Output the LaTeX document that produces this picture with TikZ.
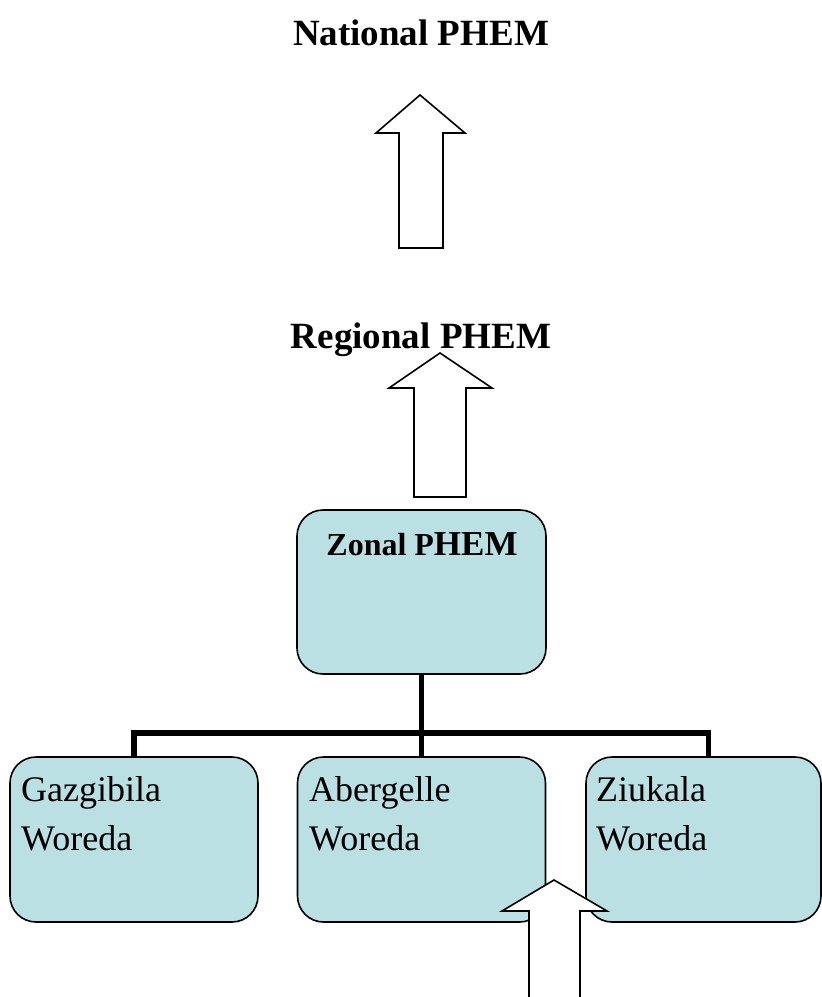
\documentclass[tikz,border=0pt]{standalone}
\usepackage{fontspec}
\setmainfont{Liberation Serif}
\definecolor{boxfill}{RGB}{186,224,228}
\begin{document}
\begin{tikzpicture}[x=1pt,y=-1pt,
  wbox/.style={draw=black, line width=1.6pt, fill=boxfill, rounded corners=26pt,
    minimum width=248pt, minimum height=165pt, inner sep=0pt},
  wtext/.style={anchor=base west, inner sep=0pt, align=left,
    font=\fontsize{36}{49}\selectfont},
  title/.style={inner sep=0pt, anchor=base, font=\fontsize{37}{44}\selectfont\bfseries},
  blockarrow/.style={draw=black, line width=1.6pt, fill=white, line join=miter},
  conn/.style={line width=5.5pt, draw=black, line join=miter}]
\useasboundingbox (0,0) rectangle (822,997);
\clip (0,0) rectangle (822,997);

% titles
\node[title] (national) at (421,45) {National PHEM};
\node[title] (regional) at (421,348) {Regional PHEM};

% arrow National <- Regional
\draw[blockarrow] (420,95) -- (465,133) -- (443,133) -- (443,248) -- (399,248)
  -- (399,133) -- (376,133) -- cycle;
% arrow Regional <- Zonal
\draw[blockarrow] (440,353) -- (492,388) -- (466,388) -- (466,497) -- (414,497)
  -- (414,388) -- (389,388) -- cycle;

% zonal box
\node[wbox, minimum width=249pt, minimum height=164pt] (zonal) at (421.5,592) {};
\node[anchor=base, inner sep=0pt, font=\bfseries] (zonalt) at (422,555)
  {\fontsize{32}{38}\selectfont Zonal P\fontsize{35}{38}\selectfont HEM};

% woreda boxes
\node[wbox] (gaz) at (134,839.5) {};
\node[wbox] (aber) at (421.5,839.5) {};
\node[wbox, minimum width=235pt] (ziu) at (703.5,839.5) {};
\node[wtext] (gazt) at (21,850) {Gazgibila\\Woreda};
\node[wtext] (abert) at (309,850) {Abergelle\\Woreda};
\node[wtext] (ziut) at (596,850) {Ziukala\\Woreda};

% tree connectors
\coordinate (bus) at (421.5,733);
\coordinate (ziutop) at (708.5,756.5);
\draw[conn] (zonal.south) -- (aber.north);
\draw[conn] (gaz.north) |- (bus) -| (ziutop);

% arrow from below
\draw[blockarrow] (554,880) -- (607,911) -- (580,911) -- (580,1010) -- (529,1010)
  -- (529,911) -- (502,911) -- cycle;
\end{tikzpicture}
\end{document}
